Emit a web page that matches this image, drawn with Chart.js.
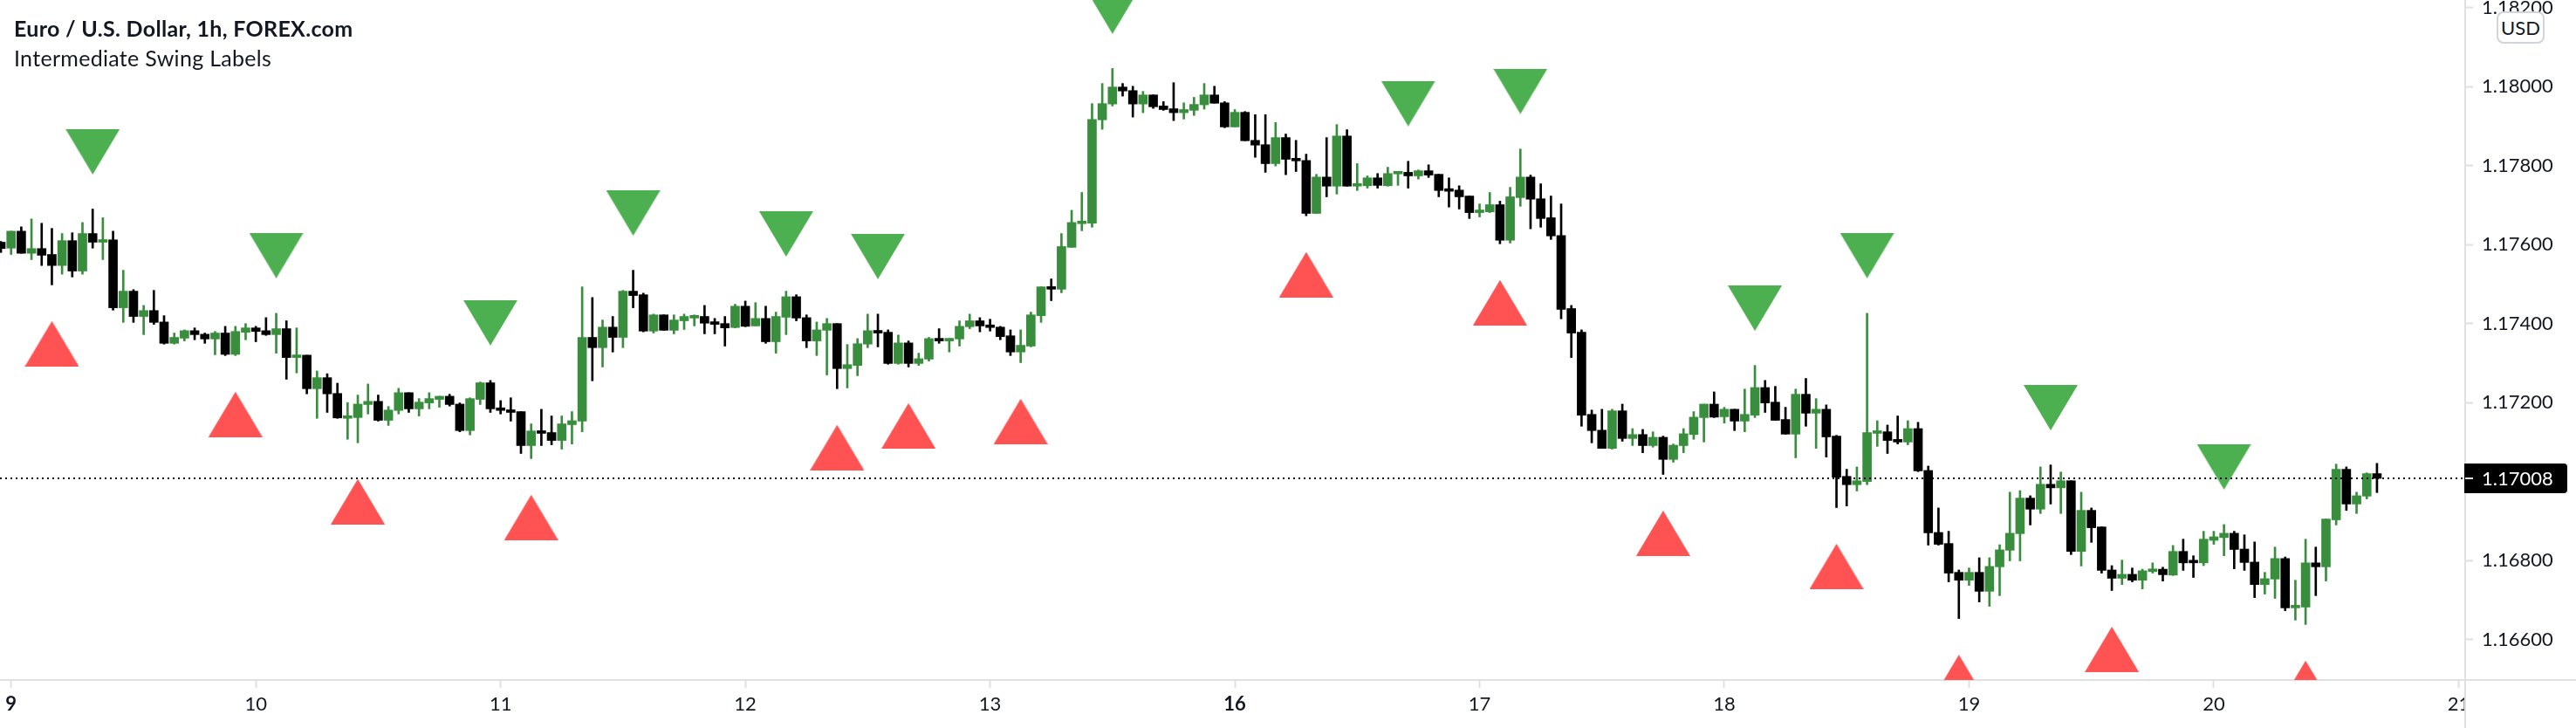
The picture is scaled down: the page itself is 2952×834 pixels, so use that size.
<!DOCTYPE html>
<html>
<head>
<meta charset="utf-8">
<title>Euro / U.S. Dollar, 1h, FOREX.com</title>
<script src="https://cdn.jsdelivr.net/npm/chart.js@4/dist/chart.umd.min.js"></script>
<style>
  html, body { margin: 0; padding: 0; background: #fff; overflow: hidden; }
  #wrap { position: relative; width: 2952px; height: 834px; }
  #pollChart { display: block; }
  .legend { position: absolute; left: 16px; color: #131722; font-family: Lato, sans-serif; white-space: nowrap; letter-spacing: 0.3px; }
  #title { top: 17px; font-size: 25px; font-weight: 700; }
  #subtitle { top: 51px; font-size: 25px; font-weight: 400; }
  #usd { position: absolute; left: 2861px; top: 13px; width: 51px; height: 33px; line-height: 33px; text-align: center;
         background: #fff; border: 2px solid #d1d4dc; border-radius: 8px; color: #131722; font: 22px/33px Lato, sans-serif; }
</style>
</head>
<body>
<div id="wrap">
  <canvas id="pollChart" width="2952" height="834"></canvas>
  <div class="legend" id="title">Euro / U.S. Dollar, 1h, FOREX.com</div>
  <div class="legend" id="subtitle">Intermediate Swing Labels</div>
  <div id="usd">USD</div>
</div>
<script>
// hourly bars, first one sits one hour before the "9" tick
var firstBar = -1;
var opens = [
1.17606,1.17591,1.17634,1.17578,1.17590,1.17575,1.17547,1.17610,1.17533,1.17628,
1.17606,1.17612,1.17440,1.17482,1.17418,1.17433,1.17404,1.17350,1.17363,1.17382,
1.17373,1.17361,1.17376,1.17322,1.17378,1.17389,1.17382,1.17372,1.17387,1.17314,
1.17320,1.17235,1.17263,1.17223,1.17160,1.17162,1.17195,1.17203,1.17155,1.17180,
1.17225,1.17184,1.17199,1.17208,1.17216,1.17196,1.17129,1.17208,1.17250,1.17185,
1.17181,1.17177,1.17091,1.17128,1.17124,1.17104,1.17144,1.17153,1.17365,1.17339,
1.17391,1.17365,1.17482,1.17473,1.17381,1.17422,1.17383,1.17407,1.17414,1.17418,
1.17402,1.17400,1.17390,1.17444,1.17394,1.17413,1.17354,1.17416,1.17468,1.17415,
1.17356,1.17383,1.17400,1.17286,1.17294,1.17348,1.17382,1.17378,1.17299,1.17351,
1.17299,1.17310,1.17362,1.17356,1.17361,1.17392,1.17407,1.17395,1.17391,1.17369,
1.17328,1.17343,1.17420,1.17493,1.17487,1.17593,1.17653,1.17654,1.17916,1.17956,
1.17999,1.17990,1.17956,1.17979,1.17951,1.17944,1.17934,1.17940,1.17954,1.17979,
1.17959,1.17898,1.17935,1.17864,1.17853,1.17805,1.17871,1.17818,1.17813,1.17679,
1.17771,1.17748,1.17875,1.17748,1.17749,1.17769,1.17749,1.17779,1.17783,1.17774,
1.17787,1.17778,1.17739,1.17738,1.17723,1.17681,1.17683,1.17701,1.17611,1.17719,
1.17771,1.17716,1.17668,1.17623,1.17438,1.17378,1.17170,1.17130,1.17084,1.17179,
1.17109,1.17119,1.17091,1.17112,1.17056,1.17091,1.17119,1.17162,1.17196,1.17164,
1.17183,1.17153,1.17168,1.17238,1.17201,1.17157,1.17120,1.17221,1.17173,1.17183,
1.17115,1.17013,1.16992,1.17000,1.17122,1.17126,1.17106,1.17100,1.17134,1.17028,
1.16871,1.16843,1.16770,1.16750,1.16770,1.16722,1.16784,1.16826,1.16868,1.16958,
1.16930,1.16993,1.16984,1.17002,1.16823,1.16927,1.16885,1.16776,1.16755,1.16765,
1.16750,1.16772,1.16778,1.16763,1.16823,1.16797,1.16794,1.16851,1.16858,1.16869,
1.16829,1.16796,1.16739,1.16753,1.16805,1.16680,1.16682,1.16794,1.16784,1.16903,
1.17031,1.16943,1.16963,1.17020];
var highs = [
1.17608,1.17634,1.17645,1.17665,1.17654,1.17641,1.17628,1.17630,1.17656,1.17690,
1.17668,1.17634,1.17535,1.17486,1.17446,1.17484,1.17420,1.17376,1.17384,1.17389,
1.17376,1.17380,1.17393,1.17393,1.17400,1.17393,1.17415,1.17426,1.17407,1.17389,
1.17320,1.17280,1.17273,1.17249,1.17200,1.17219,1.17247,1.17219,1.17190,1.17236,
1.17225,1.17210,1.17225,1.17216,1.17221,1.17199,1.17212,1.17252,1.17256,1.17205,
1.17212,1.17177,1.17146,1.17183,1.17166,1.17166,1.17177,1.17493,1.17466,1.17409,
1.17418,1.17484,1.17535,1.17477,1.17424,1.17422,1.17422,1.17424,1.17422,1.17446,
1.17413,1.17418,1.17449,1.17457,1.17453,1.17444,1.17429,1.17482,1.17473,1.17422,
1.17404,1.17413,1.17400,1.17347,1.17362,1.17424,1.17424,1.17384,1.17371,1.17356,
1.17325,1.17365,1.17387,1.17362,1.17407,1.17424,1.17415,1.17411,1.17393,1.17384,
1.17384,1.17429,1.17493,1.17513,1.17628,1.17687,1.17732,1.17957,1.18008,1.18046,
1.18008,1.18001,1.17988,1.17979,1.17962,1.18010,1.17959,1.17973,1.18008,1.18001,
1.17962,1.17942,1.17937,1.17929,1.17929,1.17909,1.17880,1.17864,1.17829,1.17778,
1.17871,1.17904,1.17891,1.17805,1.17774,1.17780,1.17796,1.17785,1.17811,1.17789,
1.17802,1.17778,1.17769,1.17749,1.17723,1.17703,1.17732,1.17710,1.17745,1.17842,
1.17776,1.17754,1.17723,1.17703,1.17446,1.17384,1.17181,1.17183,1.17183,1.17196,
1.17134,1.17132,1.17126,1.17115,1.17095,1.17134,1.17177,1.17196,1.17227,1.17188,
1.17183,1.17234,1.17294,1.17256,1.17241,1.17188,1.17234,1.17261,1.17210,1.17194,
1.17117,1.17031,1.17037,1.17426,1.17154,1.17143,1.17166,1.17154,1.17150,1.17039,
1.16933,1.16874,1.16776,1.16781,1.16807,1.16807,1.16840,1.16973,1.16977,1.16964,
1.17037,1.17042,1.17024,1.17002,1.16973,1.16933,1.16885,1.16787,1.16801,1.16781,
1.16778,1.16794,1.16783,1.16838,1.16854,1.16812,1.16874,1.16874,1.16891,1.16874,
1.16865,1.16847,1.16770,1.16834,1.16809,1.16750,1.16854,1.16834,1.16905,1.17044,
1.17037,1.16973,1.17022,1.17046];
var lows = [
1.17580,1.17575,1.17578,1.17562,1.17547,1.17498,1.17525,1.17518,1.17525,1.17591,
1.17562,1.17434,1.17403,1.17403,1.17372,1.17398,1.17348,1.17348,1.17356,1.17359,
1.17350,1.17321,1.17319,1.17319,1.17359,1.17354,1.17370,1.17325,1.17259,1.17275,
1.17222,1.17160,1.17175,1.17160,1.17107,1.17098,1.17171,1.17153,1.17142,1.17171,
1.17175,1.17166,1.17184,1.17188,1.17191,1.17126,1.17118,1.17195,1.17175,1.17171,
1.17153,1.17071,1.17058,1.17091,1.17093,1.17082,1.17095,1.17126,1.17255,1.17290,
1.17328,1.17339,1.17440,1.17379,1.17376,1.17383,1.17374,1.17385,1.17394,1.17374,
1.17374,1.17343,1.17389,1.17392,1.17394,1.17350,1.17325,1.17372,1.17407,1.17339,
1.17319,1.17270,1.17235,1.17237,1.17268,1.17339,1.17341,1.17297,1.17297,1.17290,
1.17294,1.17305,1.17350,1.17328,1.17343,1.17387,1.17379,1.17381,1.17359,1.17319,
1.17301,1.17341,1.17403,1.17458,1.17478,1.17593,1.17635,1.17644,1.17892,1.17951,
1.17976,1.17923,1.17934,1.17945,1.17940,1.17914,1.17918,1.17927,1.17943,1.17958,
1.17896,1.17898,1.17863,1.17821,1.17783,1.17799,1.17777,1.17785,1.17673,1.17679,
1.17721,1.17728,1.17748,1.17737,1.17743,1.17743,1.17748,1.17750,1.17743,1.17766,
1.17770,1.17721,1.17695,1.17690,1.17666,1.17670,1.17681,1.17602,1.17604,1.17697,
1.17640,1.17644,1.17613,1.17412,1.17314,1.17140,1.17098,1.17084,1.17082,1.17102,
1.17091,1.17073,1.17087,1.17018,1.17049,1.17073,1.17107,1.17100,1.17162,1.17148,
1.17129,1.17126,1.17162,1.17175,1.17155,1.17120,1.17060,1.17140,1.17084,1.17062,
1.16934,1.16938,1.16976,1.16992,1.17089,1.17071,1.17095,1.17093,1.17025,1.16839,
1.16839,1.16746,1.16653,1.16737,1.16695,1.16684,1.16711,1.16799,1.16799,1.16890,
1.16919,1.16943,1.16919,1.16815,1.16786,1.16846,1.16768,1.16724,1.16739,1.16746,
1.16728,1.16768,1.16748,1.16762,1.16775,1.16757,1.16787,1.16841,1.16812,1.16779,
1.16775,1.16706,1.16715,1.16704,1.16673,1.16649,1.16638,1.16711,1.16748,1.16890,
1.16927,1.16919,1.16956,1.16972];
var closes = [
1.17590,1.17634,1.17578,1.17590,1.17573,1.17547,1.17610,1.17533,1.17628,1.17606,
1.17612,1.17440,1.17482,1.17418,1.17433,1.17403,1.17350,1.17365,1.17382,1.17372,
1.17361,1.17376,1.17322,1.17380,1.17389,1.17380,1.17372,1.17387,1.17314,1.17320,
1.17235,1.17263,1.17222,1.17161,1.17165,1.17196,1.17203,1.17155,1.17181,1.17225,
1.17184,1.17201,1.17210,1.17216,1.17195,1.17129,1.17210,1.17250,1.17184,1.17180,
1.17175,1.17091,1.17128,1.17122,1.17104,1.17146,1.17154,1.17365,1.17339,1.17391,
1.17365,1.17482,1.17471,1.17381,1.17422,1.17383,1.17409,1.17418,1.17420,1.17401,
1.17398,1.17389,1.17444,1.17393,1.17413,1.17354,1.17418,1.17468,1.17414,1.17356,
1.17384,1.17400,1.17286,1.17296,1.17349,1.17382,1.17376,1.17299,1.17351,1.17299,
1.17311,1.17362,1.17356,1.17362,1.17393,1.17407,1.17394,1.17390,1.17367,1.17328,
1.17345,1.17422,1.17493,1.17487,1.17595,1.17656,1.17657,1.17917,1.17957,1.17999,
1.17989,1.17956,1.17979,1.17949,1.17942,1.17934,1.17942,1.17955,1.17979,1.17958,
1.17898,1.17935,1.17863,1.17852,1.17805,1.17871,1.17816,1.17812,1.17679,1.17771,
1.17748,1.17875,1.17748,1.17752,1.17769,1.17750,1.17780,1.17783,1.17774,1.17787,
1.17776,1.17737,1.17735,1.17721,1.17681,1.17685,1.17701,1.17611,1.17721,1.17771,
1.17715,1.17666,1.17622,1.17436,1.17376,1.17168,1.17129,1.17084,1.17179,1.17109,
1.17119,1.17091,1.17112,1.17056,1.17092,1.17121,1.17163,1.17196,1.17163,1.17183,
1.17153,1.17170,1.17238,1.17199,1.17155,1.17120,1.17221,1.17173,1.17183,1.17113,
1.17011,1.16992,1.17002,1.17124,1.17126,1.17104,1.17100,1.17134,1.17027,1.16870,
1.16841,1.16768,1.16750,1.16770,1.16722,1.16785,1.16827,1.16869,1.16958,1.16930,
1.16993,1.16984,1.17002,1.16823,1.16927,1.16883,1.16775,1.16755,1.16765,1.16750,
1.16774,1.16778,1.16764,1.16823,1.16794,1.16794,1.16854,1.16860,1.16869,1.16828,
1.16795,1.16739,1.16754,1.16805,1.16680,1.16683,1.16794,1.16784,1.16905,1.17031,
1.16943,1.16964,1.17020,1.17008];

// swing labels: bar number and the price at the middle of each triangle
var swingHighBars = [8, 26, 47, 61, 76, 85, 108, 137, 148, 171, 182, 200, 217];
var swingHighPrices = [1.17835, 1.17572, 1.17402, 1.17680, 1.17627, 1.17570, 1.18191, 1.17957, 1.17988, 1.17439, 1.17572, 1.17187, 1.17037];
var swingLowBars = [4, 22, 34, 51, 81, 88, 99, 127, 146, 162, 179, 191, 206, 225];
var swingLowPrices = [1.17349, 1.17170, 1.16949, 1.16909, 1.17086, 1.17141, 1.17152, 1.17524, 1.17453, 1.16869, 1.16785, 1.16504, 1.16575, 1.16489];

var dayBars = [0, 24, 48, 72, 96, 120, 144, 168, 192, 216, 240];
var dayLabels = ['9', '10', '11', '12', '13', '16', '17', '18', '19', '20', '21'];
var boldDays = ['9', '16'];
var priceTicks = [1.166, 1.168, 1.17, 1.172, 1.174, 1.176, 1.178, 1.18, 1.182];
var lastPrice = 1.17008;

var xMin = -1.087, xMax = 240.65;
var yMin = 1.164974, yMax = 1.182194;

var upColor = '#388e3c', downColor = '#000000';
var axisColor = '#e0e0e0', textColor = '#131722';
var fontName = 'Lato, sans-serif';

function triangleImage(color, pointsUp) {
  var c = document.createElement('canvas');
  c.width = 62;
  c.height = 52;
  var g = c.getContext('2d');
  g.fillStyle = color;
  g.beginPath();
  if (pointsUp) {
    g.moveTo(31, 0); g.lineTo(62, 52); g.lineTo(0, 52);
  } else {
    g.moveTo(0, 0); g.lineTo(62, 0); g.lineTo(31, 52);
  }
  g.closePath();
  g.fill();
  return c;
}

function isUp(i) {
  return closes[i] >= opens[i];
}

var barColors = opens.map(function(o, i) { return isUp(i) ? upColor : downColor; });

// draws what the axes can't do alone: lines past the chart area and the last price tag
var priceChrome = {
  id: 'priceChrome',
  afterDraw: function(chart) {
    var ctx = chart.ctx, area = chart.chartArea;
    var y = chart.scales.y.getPixelForValue(lastPrice);
    ctx.save();
    // the "21" label is cut by the price axis
    ctx.fillStyle = '#ffffff';
    ctx.fillRect(area.right, area.bottom + 1, chart.width - area.right, chart.height - area.bottom);
    ctx.fillStyle = axisColor;
    ctx.fillRect(area.right - 1, area.bottom, 2, chart.height - area.bottom);
    ctx.fillRect(area.right, area.bottom - 1, chart.width - area.right, 2);

    ctx.fillStyle = '#000000';
    ctx.beginPath();
    ctx.roundRect(area.right - 1, y - 17, 118, 34, [0, 4, 4, 0]);
    ctx.fill();
    ctx.fillStyle = axisColor;
    ctx.fillRect(area.right, y - 1, 9, 2);
    ctx.fillStyle = '#ffffff';
    ctx.font = '22px ' + fontName;
    ctx.textBaseline = 'middle';
    ctx.fillText(lastPrice.toFixed(5), area.right + 19, y + 1);
    ctx.restore();
  }
};

function buildChart() {
  var ctx = document.getElementById('pollChart').getContext('2d');
  return new Chart(ctx, {
    type: 'bar',
    data: {
      datasets: [
        {
          type: 'line',
          order: 0,
          data: [{ x: xMin, y: lastPrice }, { x: xMax, y: lastPrice }],
          borderColor: '#000000',
          borderWidth: 2,
          borderDash: [2, 4],
          pointRadius: 0
        },
        {
          order: 1,
          grouped: false,
          data: opens.map(function(o, i) { return { x: i + firstBar, y: [o, closes[i]] }; }),
          backgroundColor: barColors,
          barThickness: 10,
          minBarLength: 3
        },
        {
          order: 2,
          grouped: false,
          data: lows.map(function(l, i) { return { x: i + firstBar, y: [l, highs[i]] }; }),
          backgroundColor: barColors,
          barThickness: 2
        },
        {
          type: 'scatter',
          order: 3,
          data: swingHighBars.map(function(b, i) { return { x: b, y: swingHighPrices[i] }; }),
          pointStyle: triangleImage('#4caf50', false),
          pointRadius: 32
        },
        {
          type: 'scatter',
          order: 3,
          data: swingLowBars.map(function(b, i) { return { x: b, y: swingLowPrices[i] }; }),
          pointStyle: triangleImage('#ff5252', true),
          pointRadius: 32
        }
      ]
    },
    options: {
      responsive: false,
      animation: false,
      devicePixelRatio: 1,
      layout: { padding: 0, autoPadding: false },
      plugins: { legend: { display: false }, tooltip: { enabled: false } },
      scales: {
        x: {
          type: 'linear',
          min: xMin,
          max: xMax,
          offset: false,
          afterBuildTicks: function(scale) {
            scale.ticks = dayBars.map(function(v) { return { value: v }; });
          },
          afterFit: function(scale) {
            scale.height = 55;
            scale.paddingLeft = 0;
            scale.paddingRight = 0;
          },
          border: { color: axisColor, width: 2 },
          grid: { offset: false, drawOnChartArea: false, drawTicks: true, tickLength: 9, tickColor: axisColor, tickWidth: 2 },
          ticks: {
            autoSkip: false,
            maxRotation: 0,
            padding: 6,
            color: textColor,
            font: function(c) {
              var bold = c.tick && boldDays.indexOf(dayLabels[dayBars.indexOf(c.tick.value)]) >= 0;
              return { family: fontName, size: 22, weight: bold ? '700' : '400' };
            },
            callback: function(value) { return dayLabels[dayBars.indexOf(value)]; }
          }
        },
        y: {
          position: 'right',
          min: yMin,
          max: yMax,
          afterBuildTicks: function(scale) {
            scale.ticks = priceTicks.map(function(v) { return { value: v }; });
          },
          afterFit: function(scale) {
            scale.width = 127;
            scale.paddingTop = 0;
            scale.paddingBottom = 0;
          },
          border: { color: axisColor, width: 2 },
          grid: { drawOnChartArea: false, drawTicks: true, tickLength: 9, tickColor: axisColor, tickWidth: 2 },
          ticks: {
            autoSkip: false,
            padding: 10,
            color: textColor,
            font: { family: fontName, size: 22 },
            callback: function(value) { return value.toFixed(5); }
          }
        }
      }
    },
    plugins: [priceChrome]
  });
}

var mychart = buildChart();
</script>
</body>
</html>
